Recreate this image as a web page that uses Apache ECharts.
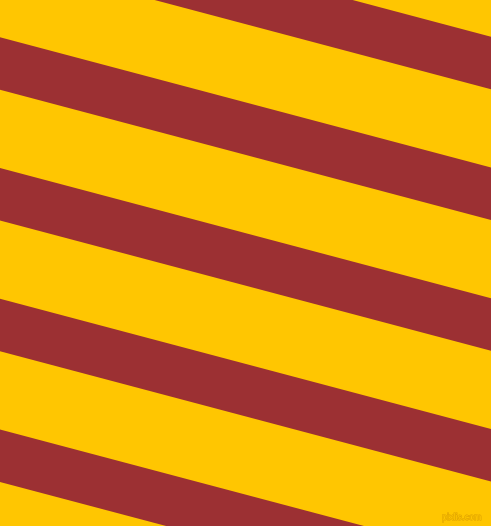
<!DOCTYPE html>
<html>
<head>
<meta charset="utf-8">
<script src="https://cdn.jsdelivr.net/npm/echarts@6/dist/echarts.min.js"></script>
<style>
html,body{margin:0;padding:0;background:#FFC601;}
#chart{width:491px;height:526px;}
</style>
</head>
<body>
<div id="chart"></div>
<script>
// Stripe edges (y at left edge x=0 and right edge x=491)
const stripeUpperLeft  = [-93.5, 37.3, 168.0, 298.7, 429.4];
const stripeUpperRight = [36.7, 167.5, 298.2, 429.0, 559.7];
const stripeThickness  = [52.5, 52.5, 52.5, 52.5, 52.5];
const xRange = [0, 491];
const yRange = [0, 526];

const data = stripeUpperLeft.map((ul, i) => [ul, stripeUpperRight[i], stripeThickness[i]]);

const chart = echarts.init(document.getElementById('chart'), null, {renderer: 'canvas'});
chart.setOption({
  backgroundColor: '#FFC601',
  animation: false,
  grid: {left: 0, right: 0, top: 0, bottom: 0},
  xAxis: {type: 'value', min: xRange[0], max: xRange[1], show: false},
  yAxis: {type: 'value', min: yRange[0], max: yRange[1], inverse: true, show: false},
  series: [{
    type: 'custom',
    clip: true,
    data: data,
    renderItem: function (params, api) {
      const ul = api.value(0), ur = api.value(1), t = api.value(2);
      const pts = [
        api.coord([xRange[0], ul]),
        api.coord([xRange[1], ur]),
        api.coord([xRange[1], ur + t]),
        api.coord([xRange[0], ul + t])
      ];
      return {
        type: 'polygon',
        shape: {points: pts},
        style: {fill: '#9C3033', stroke: null}
      };
    }
  }],
  graphic: [{
    type: 'text',
    right: 9,
    bottom: 3,
    style: {
      text: 'pixlis.com',
      fill: '#FFC601',
      stroke: '#DDA000',
      lineWidth: 1,
      font: '9px "Liberation Sans", sans-serif'
    }
  }]
});
</script>
</body>
</html>
